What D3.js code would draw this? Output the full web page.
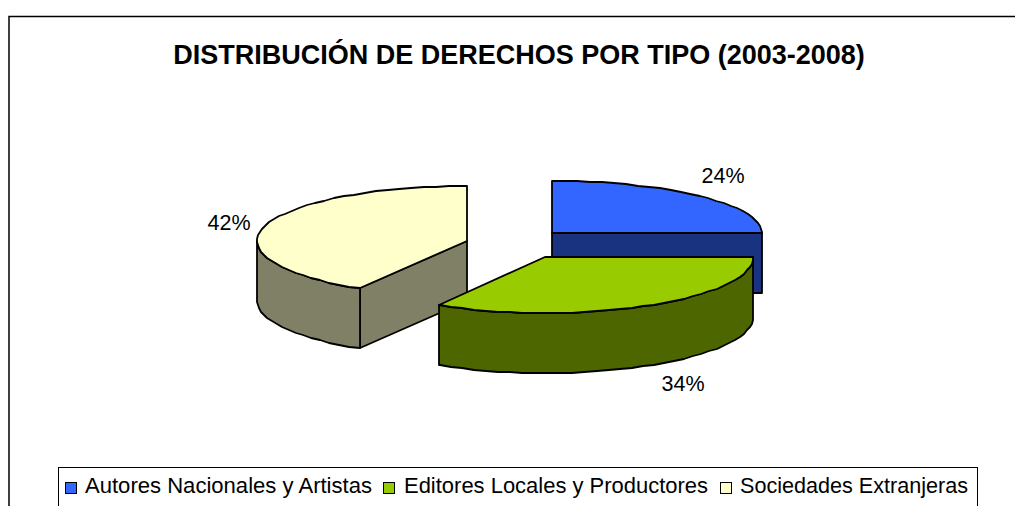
<!DOCTYPE html>
<html><head><meta charset="utf-8">
<script src="https://cdn.jsdelivr.net/npm/d3@7"></script>
<style>html,body{margin:0;padding:0;background:#fff}svg{display:block}text{font-family:"Liberation Sans",Arial,sans-serif;fill:#000}</style>
</head><body><svg id="c" width="1015" height="506"></svg>
<script>
const categories = ["Autores Nacionales y Artistas","Editores Locales y Productores","Sociedades Extranjeras"];
const shares = [24.2,34.3,41.5];
const labelTexts = ["24%","34%","42%"];
const titleText = "DISTRIBUCIÓN DE DERECHOS POR TIPO (2003-2008)";
const topColors = ["#3366FF","#99CC00","#FFFFCC"];
const sideColors = ["#1A3380","#4D6600","#808066"];
const centers = [[552,233],[545,257],[467,241]];
const radX = [210,208,210];
const radY = [52,56,55];
const labelPos = [[723,183],[683,391],[229,230]];
const legendX = [[65,85],[383,404],[720,740]];
const legendW = [287,304,228];

const svg = d3.select("#c");
const depth = 60;
svg.append("path").attr("d","M9,506V16.5H1015").attr("fill","none").attr("stroke","#000").attr("stroke-width",1.5);
svg.append("text").attr("x",519).attr("y",64).attr("text-anchor","middle")
  .attr("font-size",27).attr("font-weight","bold").text(titleText);

const slices = d3.pie().sort(null).value(d=>d)(shares);
const line = d3.line();
const stroke = g=>g.attr("stroke","#000").attr("stroke-width",1.8).attr("stroke-linejoin","round");

[0,2,1].forEach(i=>{
  const s = slices[i], c = centers[i], g = svg.append("g");
  const rx = radX[i], ry = radY[i];
  const pt = (a,dy=0)=>[Math.round(c[0]+rx*Math.sin(a)), Math.round(c[1]-ry*Math.cos(a))+dy];
  const arcPts = (a0,a1,dy=0)=>d3.range(a0,a1,0.06).concat([a1]).map(a=>pt(a,dy));
  const a0 = s.startAngle, a1 = s.endAngle;
  if(i===0){
    const r = pt(Math.PI/2);
    g.append("path").attr("d",line([c,r,[r[0],r[1]+depth],[c[0],c[1]+depth]])+"Z")
      .attr("fill",sideColors[i]).call(stroke);
    g.append("path").attr("d",line([c,...arcPts(a0,Math.PI/2)])+"Z")
      .attr("fill",topColors[i]).call(stroke);
  } else {
    const startVis = Math.max(a0,Math.PI/2), endVis = Math.min(a1,1.5*Math.PI);
    if(i===2){
      const e = pt(a0);
      g.append("path").attr("d",line([c,e,[e[0],e[1]+depth],[c[0],c[1]+depth]])+"Z")
        .attr("fill",sideColors[i]).call(stroke);
    }
    const upper = arcPts(startVis,endVis), lower = arcPts(startVis,endVis,depth).reverse();
    g.append("path").attr("d",line([...upper,...lower])+"Z").attr("fill",sideColors[i]).call(stroke);
    g.append("path").attr("d",line([c,...arcPts(startVis,a1)])+"Z").attr("fill",topColors[i]).call(stroke);
  }
});
labelTexts.forEach((t,i)=>svg.append("text").attr("x",labelPos[i][0]).attr("y",labelPos[i][1])
  .attr("text-anchor","middle").attr("font-size",21.5).text(t));

svg.append("rect").attr("x",58.5).attr("y",467.5).attr("width",919).attr("height",60)
  .attr("fill","#fff").attr("stroke","#000");
categories.forEach((t,i)=>{
  svg.append("rect").attr("x",legendX[i][0]+.5).attr("y",482.5).attr("width",11).attr("height",11)
    .attr("fill",topColors[i]).attr("stroke","#000").attr("stroke-width",1);
  svg.append("text").attr("x",legendX[i][1]).attr("y",493).attr("font-size",22)
    .attr("textLength",legendW[i]).attr("lengthAdjust","spacingAndGlyphs").text(t);
});
</script></body></html>
